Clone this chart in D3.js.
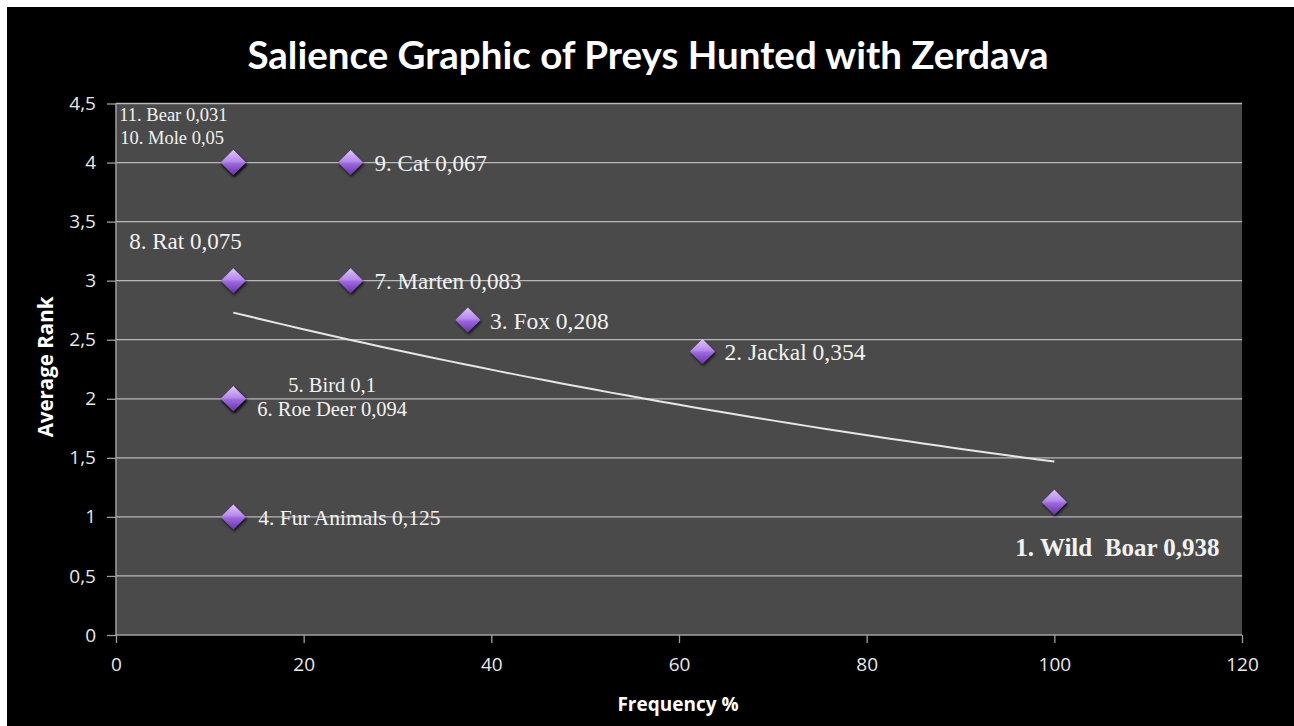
<!DOCTYPE html>
<html><head><meta charset="utf-8">
<script src="https://cdn.jsdelivr.net/npm/d3@7"></script>
<style>html,body{margin:0;padding:0;background:#fff;overflow:hidden}</style>
</head><body>
<svg id="c" width="1294" height="726"></svg>
<script>
const names = ["1. Wild  Boar 0,938","2. Jackal 0,354","3. Fox 0,208","4. Fur Animals 0,125","5. Bird 0,1","6. Roe Deer 0,094","7. Marten 0,083","8. Rat 0,075","9. Cat 0,067","10. Mole 0,05","11. Bear 0,031"];
const frequency = [100, 62.5, 37.5, 12.5, 12.5, 12.5, 25, 12.5, 25, 12.5, 12.5];
const avgRank   = [1.125, 2.4, 2.667, 1, 2, 2, 3, 3, 4, 4, 4];
const xTicks = [0, 20, 40, 60, 80, 100, 120];
const yTicks = [0, 0.5, 1, 1.5, 2, 2.5, 3, 3.5, 4, 4.5];
const yTickLabels = ["0","0,5","1","1,5","2","2,5","3","3,5","4","4,5"];

const svg = d3.select("#c");
svg.append("rect").attr("x",7).attr("y",7).attr("width",1287).attr("height",719).attr("fill","#000");

const x = d3.scaleLinear().domain([0,120]).range([116,1242]);
const y = d3.scaleLinear().domain([0,4.5]).range([635,103.5]);

const defs = svg.append("defs");
const g = defs.append("linearGradient").attr("id","dg").attr("x1",0).attr("y1",0).attr("x2",0).attr("y2",1);
g.append("stop").attr("offset","0%").attr("stop-color","#e0c4ff");
g.append("stop").attr("offset","45%").attr("stop-color","#b58ae8");
g.append("stop").attr("offset","55%").attr("stop-color","#9a66dc");
g.append("stop").attr("offset","100%").attr("stop-color","#6a32b0");
const f = defs.append("filter").attr("id","sh").attr("x","-50%").attr("y","-50%").attr("width","200%").attr("height","200%");
f.append("feDropShadow").attr("dx",1).attr("dy",2).attr("stdDeviation",1.5).attr("flood-color","#000").attr("flood-opacity",0.8);

// plot area
svg.append("rect").attr("x",x(0)).attr("y",y(4.5)).attr("width",x(120)-x(0)).attr("height",y(0)-y(4.5)).attr("fill","#4a4a4a");

// gridlines
svg.append("g").selectAll("line").data(yTicks.filter(d=>d>0)).join("line")
  .attr("x1",x(0)).attr("x2",x(120)).attr("y1",d=>y(d)).attr("y2",d=>y(d))
  .attr("stroke","#b8b8b8").attr("stroke-width",1.3);

// axes
const yAxis = svg.append("g").attr("transform",`translate(${x(0)},0)`)
  .call(d3.axisLeft(y).tickValues(yTicks).tickFormat((d,i)=>yTickLabels[i]).tickSize(9).tickPadding(11));
const xAxis = svg.append("g").attr("transform",`translate(0,${y(0)})`)
  .call(d3.axisBottom(x).tickValues(xTicks).tickSize(8).tickPadding(15));
[yAxis,xAxis].forEach(a=>{
  a.select(".domain").attr("stroke","#a0a0a0").attr("stroke-width",1.5);
  a.selectAll(".tick line").attr("stroke","#a0a0a0").attr("stroke-width",1.3);
  a.selectAll("text").attr("fill","#e8e8e8").attr("font-family","'Open Sans', sans-serif").attr("font-size",19);
});
xAxis.select(".domain").attr("d",`M${x(0)},0H${x(120)}`);
yAxis.select(".domain").attr("d",`M0,${y(0)}V${y(4.5)}`);

// exponential trendline (least squares on ln y), drawn over frequency data range
const n = frequency.length;
const ly = avgRank.map(Math.log);
const mx = d3.mean(frequency), my = d3.mean(ly);
let sxy=0, sxx=0;
for(let i=0;i<n;i++){sxy+=(frequency[i]-mx)*(ly[i]-my);sxx+=(frequency[i]-mx)**2;}
const b = sxy/sxx, a = my - b*mx;
const [xmin,xmax] = d3.extent(frequency);
const tr = d3.range(0,51).map(k=>{const xv=xmin+(xmax-xmin)*k/50;return [xv,Math.exp(a+b*xv)];});
svg.append("path").datum(tr).attr("fill","none").attr("stroke","#e6e6e6").attr("stroke-width",2)
  .attr("d",d3.line().x(d=>x(d[0])).y(d=>y(d[1])));

// markers
const pts = frequency.map((f,i)=>({f, r:avgRank[i]}));
svg.append("g").selectAll("path").data(pts).join("path")
  .attr("transform",d=>`translate(${x(d.f)},${y(d.r)})`)
  .attr("d","M0,-12.5L12.5,0L0,12.5L-12.5,0Z")
  .attr("fill","url(#dg)").attr("filter","url(#sh)");

// labels (offsets relative to each point)
const lab = [
  {dx:-39, dy:54, fs:25, bold:true},   // wild boar
  {dx:22, dy:8, fs:23.5},   // jackal
  {dx:22, dy:9, fs:23.5},   // fox
  {dx:25, dy:8, fs:21.5},   // fur animals
  {dx:55, dy:-7, fs:20.5},  // bird
  {dx:24, dy:17, fs:20.5},  // roe deer
  {dx:24, dy:8, fs:23},   // marten
  {dx:-104, dy:-32, fs:23}, // rat
  {dx:24, dy:8, fs:23},   // cat
  {dx:-113, dy:-19, fs:18.5}, // mole
  {dx:-114, dy:-42, fs:18.5}  // bear
];
svg.append("g").selectAll("text").data(pts).join("text")
  .attr("x",(d,i)=>x(d.f)+lab[i].dx).attr("y",(d,i)=>y(d.r)+lab[i].dy)
  .attr("font-family","'Liberation Serif', 'Times New Roman', serif")
  .attr("font-size",(d,i)=>lab[i].fs).attr("font-weight",(d,i)=>lab[i].bold?"bold":"normal")
  .attr("fill","#f2f2f2").attr("xml:space","preserve").style("white-space","pre")
  .text((d,i)=>names[i]);

// title and axis titles
svg.append("text").attr("x",648).attr("y",69).attr("text-anchor","middle")
  .attr("font-family","Lato, 'Open Sans', sans-serif").attr("font-weight","bold").attr("font-size",38.5)
  .attr("fill","#fff").text("Salience Graphic of Preys Hunted with Zerdava");
svg.append("text").attr("x",678).attr("y",711).attr("text-anchor","middle")
  .attr("font-family","'Open Sans', sans-serif").attr("font-weight","bold").attr("font-size",19)
  .attr("fill","#fff").text("Frequency %");
svg.append("text").attr("transform","translate(53,367) rotate(-90)").attr("text-anchor","middle")
  .attr("font-family","'Open Sans', sans-serif").attr("font-weight","bold").attr("font-size",20.5)
  .attr("fill","#fff").text("Average Rank");
</script>
</body></html>
